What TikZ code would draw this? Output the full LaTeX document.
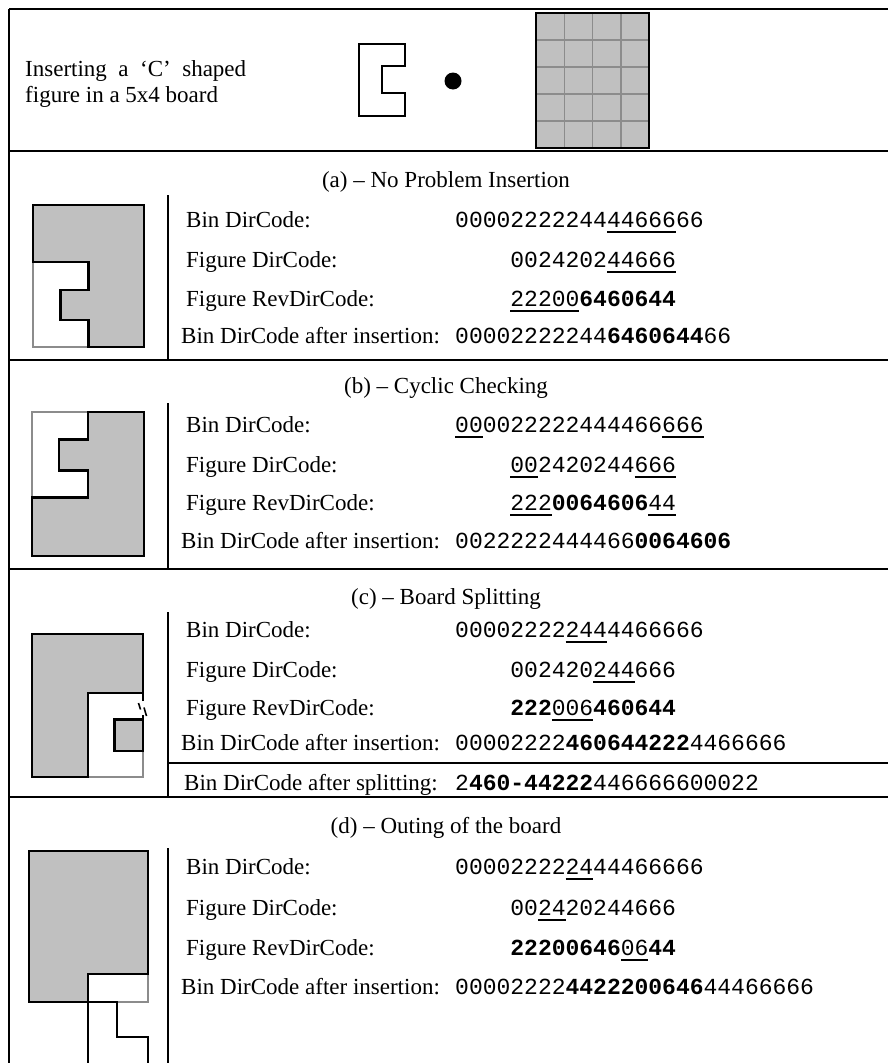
\documentclass[tikz,border=0pt]{standalone}
\usepackage{fontspec}
\setmainfont{Liberation Serif}
\newfontfamily\codefont{Liberation Mono}
\definecolor{boardgray}{RGB}{192,192,192}
\definecolor{edgegray}{RGB}{140,140,140}
\newbox\myulbox
\newcommand\ulc[1]{\setbox\myulbox=\hbox{#1}\rlap{\rule[-5.5pt]{\wd\myulbox}{1.3pt}}\box\myulbox\relax}
\tikzset{
  lbl/.style={anchor=base west, inner sep=0pt, font=\fontsize{23}{27}\selectfont},
  codetxt/.style={anchor=base west, inner sep=0pt, font=\fontsize{23}{27}\selectfont\codefont},
  ttl/.style={anchor=base, inner sep=0pt, font=\fontsize{23}{27}\selectfont},
  tline/.style={line width=1.8pt},
  figline/.style={line width=2.4pt, line join=miter},
  grayline/.style={line width=1.6pt, draw=edgegray},
}
\begin{document}
\begin{tikzpicture}[x=1pt,y=-1pt]
\useasboundingbox (0,0) rectangle (888,1063);
% ---------- table lines ----------
\draw[tline] (9,9) -- (888,9);
\draw[tline] (9,9) -- (9,1063);
\draw[tline] (9,151) -- (888,151);
\draw[tline] (9,360) -- (888,360);
\draw[tline] (9,569) -- (888,569);
\draw[tline] (9,797) -- (888,797);
\draw[tline] (168,763) -- (888,763);
\draw[tline] (168,195) -- (168,360);
\draw[tline] (168,403) -- (168,569);
\draw[tline] (168,612) -- (168,797);
\draw[tline] (168,848) -- (168,1063);
% ---------- header ----------
\node[lbl] (h1) at (25,76) {\makebox[221pt][s]{Inserting a ‘C’ shaped}};
\node[lbl] (h2) at (25,102) {figure in a 5x4 board};
\draw[line width=2pt] (359,44) -- (405,44) -- (405,66) -- (382,66) -- (382,93) -- (405,93) -- (405,116) -- (359,116) -- cycle;
\fill (453,81) circle (8.5);
\fill[boardgray] (536,13) rectangle (649,148);
\foreach \i in {1,2,3} \draw[edgegray, line width=1.5pt] (536+28.25*\i,13) -- (536+28.25*\i,148);
\foreach \j in {1,2,3,4} \draw[edgegray, line width=1.5pt] (536,13+27*\j) -- (649,13+27*\j);
\draw[line width=2.4pt] (536,13) rectangle (649,148);
% ---------- panel (a) ----------
\node[ttl] (ta) at (446,187) {(a) -- No Problem Insertion};
\fill[boardgray] (33,205) -- (144,205) -- (144,347) -- (88.5,347) -- (88.5,320) -- (60.5,320) -- (60.5,290) -- (88.5,290) -- (88.5,262) -- (33,262) -- cycle;
\draw[grayline] (33,262) -- (33,347) -- (88.5,347);
\draw[figline] (33,205) -- (144,205) -- (144,347) -- (88.5,347) -- (88.5,320) -- (60.5,320) -- (60.5,290) -- (88.5,290) -- (88.5,262) -- (33,262) -- cycle;
\node[lbl] (a1) at (186,227) {Bin DirCode:};
\node[codetxt] (a1c) at (455,227) {00002222244\ulc{44666}66};
\node[lbl] (a2) at (186,267) {Figure DirCode:};
\node[codetxt] (a2c) at (510.2,267) {0024202\ulc{44666}};
\node[lbl] (a3) at (186,306) {Figure RevDirCode:};
\node[codetxt] (a3c) at (510.2,306) {\ulc{22200}{\bfseries 6460644}};
\node[lbl] (a4) at (181,343) {Bin DirCode after insertion:};
\node[codetxt] (a4c) at (455,343) {00002222244{\bfseries 6460644}66};
% ---------- panel (b) ----------
\node[ttl] (tb) at (446,393) {(b) -- Cyclic Checking};
\fill[boardgray] (88,412) -- (144,412) -- (144,556) -- (32,556) -- (32,497.5) -- (88,497.5) -- (88,470.5) -- (59,470.5) -- (59,439.5) -- (88,439.5) -- cycle;
\draw[grayline] (32,497.5) -- (32,412) -- (88,412);
\draw[figline] (88,412) -- (144,412) -- (144,556) -- (32,556) -- (32,497.5) -- (88,497.5) -- (88,470.5) -- (59,470.5) -- (59,439.5) -- (88,439.5) -- cycle;
\node[lbl] (b1) at (186,432) {Bin DirCode:};
\node[codetxt] (b1c) at (455,432) {\ulc{00}0022222444466\ulc{666}};
\node[lbl] (b2) at (186,472) {Figure DirCode:};
\node[codetxt] (b2c) at (510.2,472) {\ulc{00}2420244\ulc{666}};
\node[lbl] (b3) at (186,510) {Figure RevDirCode:};
\node[codetxt] (b3c) at (510.2,510) {\ulc{222}{\bfseries 0064606}\ulc{44}};
\node[lbl] (b4) at (181,548) {Bin DirCode after insertion:};
\node[codetxt] (b4c) at (455,548) {0022222444466{\bfseries 0064606}};
% ---------- panel (c) ----------
\node[ttl] (tc) at (446,604) {(c) -- Board Splitting};
\fill[boardgray] (32,634) -- (143,634) -- (143,692.7) -- (87.7,692.7) -- (87.7,777) -- (32,777) -- cycle;
\fill[boardgray] (114.5,719.3) rectangle (143,751);
\draw[grayline] (87.7,777) -- (143,777) -- (143,751);
\draw[figline] (143,701) -- (143,692.7) -- (87.7,692.7) -- (87.7,777) -- (32,777) -- (32,634) -- (143,634) -- (143,692.7);
\draw[line width=1.6pt] (138.5,703) -- (140.5,709.5);
\draw[line width=1.6pt] (144,707.5) -- (146.5,716);
\draw[figline] (143,715) -- (143,719.3);
\draw[figline] (114.5,719.3) rectangle (143,751);
\node[lbl] (c1) at (186,637) {Bin DirCode:};
\node[codetxt] (c1c) at (455,637) {00002222\ulc{244}4466666};
\node[lbl] (c2) at (186,677) {Figure DirCode:};
\node[codetxt] (c2c) at (510.2,677) {002420\ulc{244}666};
\node[lbl] (c3) at (186,715) {Figure RevDirCode:};
\node[codetxt] (c3c) at (510.2,715) {{\bfseries 222}\ulc{006}{\bfseries 460644}};
\node[lbl] (c4) at (181,750) {Bin DirCode after insertion:};
\node[codetxt] (c4c) at (455,750) {00002222{\bfseries 460644222}4466666};
\node[lbl] (c5) at (184,790) {Bin DirCode after splitting:};
\node[codetxt] (c5c) at (455,790) {2{\bfseries 460-44222}446666600022};
% ---------- panel (d) ----------
\node[ttl] (td) at (446,833) {(d) -- Outing of the board};
\fill[boardgray] (29,851) -- (148,851) -- (148,974) -- (88,974) -- (88,1002) -- (29,1002) -- cycle;
\draw[grayline] (148,974) -- (148,1002) -- (117,1002);
\draw[figline] (29,851) -- (148,851) -- (148,974) -- (88,974) -- (88,1002) -- (29,1002) -- cycle;
\draw[figline] (88,1002) -- (88,1063);
\draw[figline] (88,1002) -- (117,1002) -- (117,1037) -- (148,1037) -- (148,1063);
\node[lbl] (d1) at (186,874) {Bin DirCode:};
\node[codetxt] (d1c) at (455,874) {00002222\ulc{24}44466666};
\node[lbl] (d2) at (186,915) {Figure DirCode:};
\node[codetxt] (d2c) at (510.2,915) {00\ulc{24}20244666};
\node[lbl] (d3) at (186,955) {Figure RevDirCode:};
\node[codetxt] (d3c) at (510.2,955) {{\bfseries 22200646}\ulc{06}{\bfseries 44}};
\node[lbl] (d4) at (181,994) {Bin DirCode after insertion:};
\node[codetxt] (d4c) at (455,994) {00002222{\bfseries 4422200646}44466666};
\end{tikzpicture}
\end{document}
